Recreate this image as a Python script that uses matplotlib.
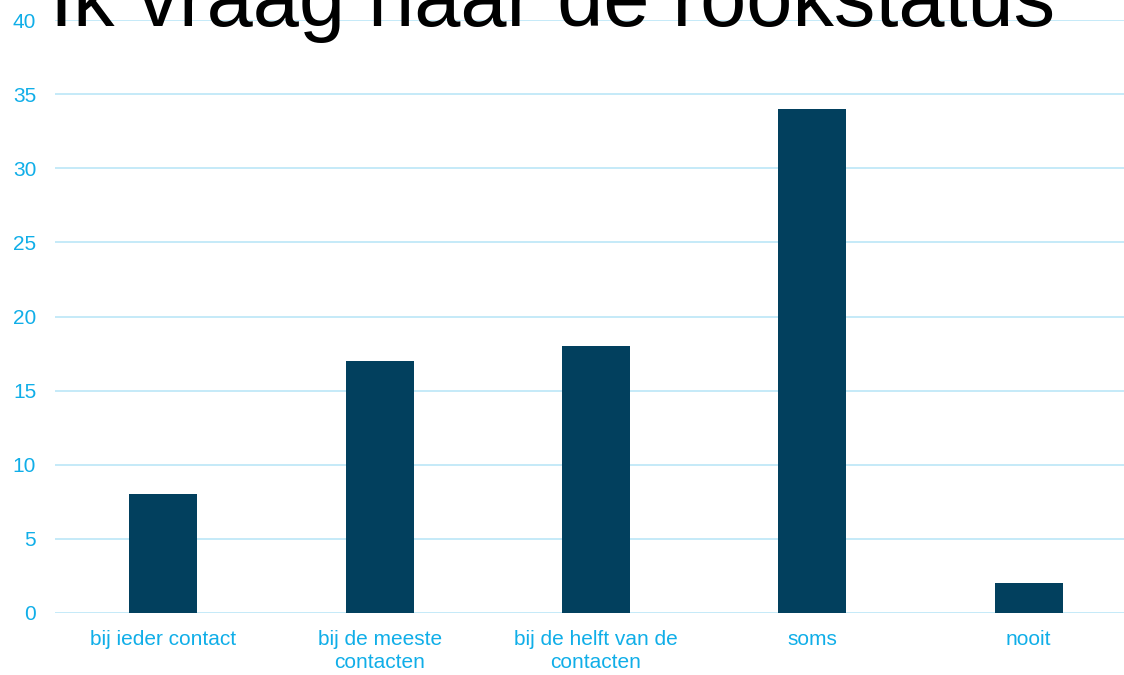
import matplotlib
matplotlib.use("Agg")
import matplotlib.pyplot as plt

categories = ["bij ieder contact", "bij de meeste\ncontacten", "bij de helft van de\ncontacten", "soms", "nooit"]
values = [8, 17, 18, 34, 2]
yticks = [0, 5, 10, 15, 20, 25, 30, 35, 40]
title = "Ik vraag naar de rookstatus"

plt.rcParams['font.family'] = ['Liberation Sans', 'DejaVu Sans']

fig = plt.figure(figsize=(11.24, 6.75), dpi=100)
W, H = 1124, 675
left, right = 55, 1137
top, bottom = 20, 613
ax = fig.add_axes([left / W, 1 - bottom / H, (right - left) / W, (bottom - top) / H])

x = list(range(len(categories)))
ax.bar(x, values, width=0.315, color="#02405e", zorder=3)
ax.set_xlim(-0.5, len(categories) - 0.5)
ax.set_ylim(0, 40)
ax.set_yticks(yticks)
ax.set_xticks(x)
ax.set_xticklabels(categories)
for s in ax.spines.values():
    s.set_visible(False)
ax.grid(axis="y", color="#c5eaf8", linewidth=1.4, zorder=0)
ax.tick_params(axis="both", length=0, colors="#10aee8", labelsize=15)
ax.tick_params(axis="y", pad=13.5)
ax.tick_params(axis="x", pad=12)
for lbl in ax.get_xticklabels():
    lbl.set_linespacing(1.32)

fig.text(553 / W, 1 - 26 / H, title, ha="center", va="baseline", fontsize=59.8, color="black")

fig.savefig("out.png", dpi=100)
